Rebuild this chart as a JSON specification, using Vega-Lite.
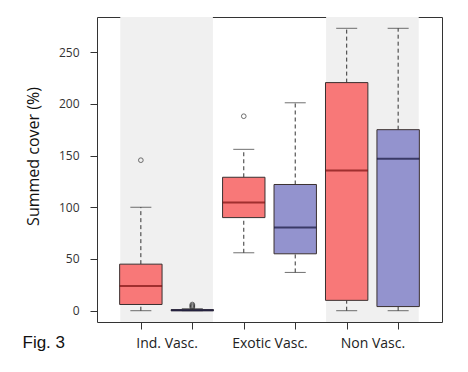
{
  "$schema": "https://vega.github.io/schema/vega-lite/v6.json",
  "autosize": "none",
  "width": 345,
  "height": 305,
  "padding": {"left": 97, "top": 17, "right": 26, "bottom": 50},
  "background": "white",
  "config": {
    "view": {"stroke": "#333333", "strokeWidth": 1},
    "axis": {"grid": false, "domain": false}
  },
  "datasets": {
    "bands": [
      {"start": 0.6, "end": 2.4},
      {"start": 4.6, "end": 6.4}
    ],
    "boxes": [
      {"pos": 1, "group": "Ind. Vasc.", "series": "A", "lo": 0, "q1": 6, "med": 24, "q3": 45, "hi": 100},
      {"pos": 2, "group": "Ind. Vasc.", "series": "B", "lo": 0, "q1": 0, "med": 0.5, "q3": 1, "hi": 2},
      {"pos": 3, "group": "Exotic Vasc.", "series": "A", "lo": 56, "q1": 90, "med": 104.5, "q3": 129, "hi": 156},
      {"pos": 4, "group": "Exotic Vasc.", "series": "B", "lo": 37, "q1": 55, "med": 80.5, "q3": 122, "hi": 201},
      {"pos": 5, "group": "Non Vasc.", "series": "A", "lo": 0, "q1": 10, "med": 135.5, "q3": 220.5, "hi": 273},
      {"pos": 6, "group": "Non Vasc.", "series": "B", "lo": 0, "q1": 4, "med": 147, "q3": 175, "hi": 273}
    ],
    "outliers": [
      {"pos": 1, "value": 145.5},
      {"pos": 2, "value": 3},
      {"pos": 2, "value": 4},
      {"pos": 2, "value": 5},
      {"pos": 2, "value": 6},
      {"pos": 3, "value": 188}
    ]
  },
  "encoding": {
    "x": {
      "field": "pos",
      "type": "quantitative",
      "scale": {"domain": [0.245, 6.755], "nice": false, "zero": false},
      "axis": {
        "title": "Fig. 3",
        "titleFont": "Liberation Sans",
        "titleFontSize": 17,
        "titleFontWeight": "normal",
        "titleColor": "#111111",
        "titleX": -75,
        "titleY": 25,
        "titleAlign": "left",
        "titleBaseline": "alphabetic",
        "titleAngle": 0,
        "values": [1, 1.5, 2, 3, 3.5, 4, 5, 5.5, 6],
        "tickSize": 7,
        "tickColor": "#333333",
        "tickOpacity": {"condition": {"test": "datum.value % 1 !== 0", "value": 0}, "value": 1},
        "labelExpr": "datum.value == 1.5 ? 'Ind. Vasc.' : datum.value == 3.5 ? 'Exotic Vasc.' : datum.value == 5.5 ? 'Non Vasc.' : ''",
        "labelFont": "Open Sans",
        "labelFontSize": 14,
        "labelColor": "#222222",
        "labelPadding": 7,
        "labelOverlap": false,
        "labelFlush": false,
        "labelBound": false
      }
    }
  },
  "layer": [
    {
      "data": {"name": "bands"},
      "mark": {"type": "rect", "color": "#f0f0f0"},
      "encoding": {
        "x": {"field": "start", "type": "quantitative"},
        "x2": {"field": "end"}
      }
    },
    {
      "data": {"name": "boxes"},
      "mark": {"type": "rule", "color": "#333333", "strokeWidth": 1, "strokeDash": [4, 3]},
      "encoding": {
        "y": {
          "field": "q3",
          "type": "quantitative",
          "scale": {"domain": [-10.92, 283.92], "nice": false, "zero": false},
          "axis": {
            "title": "Summed cover (%)",
            "titleFont": "Open Sans",
            "titleFontSize": 16,
            "titleFontWeight": "normal",
            "titleColor": "#111111",
            "titleX": -59,
            "titleY": 139,
            "titleBaseline": "alphabetic",
            "values": [0, 50, 100, 150, 200, 250],
            "tickSize": 7,
            "tickColor": "#333333",
            "labelFont": "Open Sans",
            "labelFontSize": 12,
            "labelColor": "#333333",
            "labelPadding": 11
          }
        },
        "y2": {"field": "hi"}
      }
    },
    {
      "data": {"name": "boxes"},
      "mark": {"type": "rule", "color": "#333333", "strokeWidth": 1, "strokeDash": [4, 3]},
      "encoding": {
        "y": {"field": "lo", "type": "quantitative"},
        "y2": {"field": "q1"}
      }
    },
    {
      "data": {"name": "boxes"},
      "mark": {"type": "tick", "orient": "horizontal", "size": 21, "thickness": 1, "color": "#333333"},
      "encoding": {
        "y": {"field": "hi", "type": "quantitative"}
      }
    },
    {
      "data": {"name": "boxes"},
      "mark": {"type": "tick", "orient": "horizontal", "size": 21, "thickness": 1, "color": "#333333"},
      "encoding": {
        "y": {"field": "lo", "type": "quantitative"}
      }
    },
    {
      "data": {"name": "boxes"},
      "mark": {"type": "bar", "orient": "vertical", "width": 42.4, "stroke": "#3a3030", "strokeWidth": 1, "opacity": 1},
      "encoding": {
        "y": {"field": "q1", "type": "quantitative"},
        "y2": {"field": "q3"},
        "color": {
          "field": "series",
          "type": "nominal",
          "scale": {"domain": ["A", "B"], "range": ["#f87878", "#9393ce"]},
          "legend": null
        }
      }
    },
    {
      "data": {"name": "boxes"},
      "mark": {"type": "tick", "orient": "horizontal", "size": 42.4, "thickness": 2},
      "encoding": {
        "y": {"field": "med", "type": "quantitative"},
        "color": {
          "field": "series",
          "type": "nominal",
          "scale": {"domain": ["A", "B"], "range": ["#7a1010", "#14143c"]},
          "legend": null
        }
      }
    },
    {
      "data": {"name": "outliers"},
      "mark": {"type": "point", "shape": "circle", "filled": false, "size": 22, "stroke": "#333333", "strokeWidth": 1},
      "encoding": {
        "y": {"field": "value", "type": "quantitative"}
      }
    }
  ],
  "resolve": {"scale": {"color": "independent"}}
}
